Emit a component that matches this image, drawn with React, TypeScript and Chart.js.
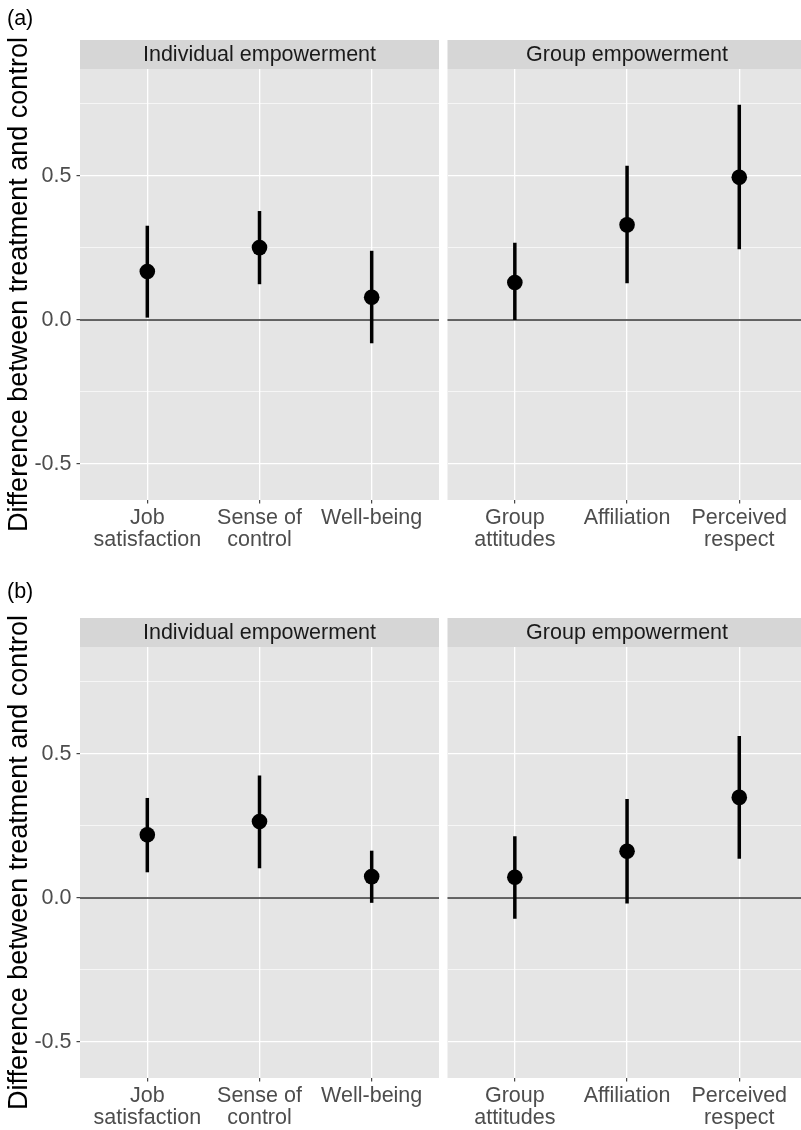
import React, { useEffect, useRef } from "react";
import { Chart, registerables } from "chart.js";

Chart.register(...registerables);

// ---------- data ----------
const individualCategories: string[][] = [["Job", "satisfaction"], ["Sense of", "control"], ["Well-being"]];
const groupCategories: string[][] = [["Group", "attitudes"], ["Affiliation"], ["Perceived", "respect"]];

const yTickValues = [-0.5, -0.25, 0, 0.25, 0.5, 0.75];
const yAxisTitle = "Difference between treatment and control";
const stripLabels = ["Individual empowerment", "Group empowerment"];
const panelTags = ["(a)", "(b)"];

// Panel (a)
const aIndividualEst = [0.168, 0.251, 0.079];
const aIndividualLow = [0.008, 0.124, -0.081];
const aIndividualHigh = [0.327, 0.378, 0.240];
const aGroupEst = [0.130, 0.330, 0.495];
const aGroupLow = [0.0, 0.127, 0.245];
const aGroupHigh = [0.268, 0.535, 0.747];

// Panel (b)
const bIndividualEst = [0.219, 0.265, 0.074];
const bIndividualLow = [0.089, 0.103, -0.017];
const bIndividualHigh = [0.347, 0.425, 0.164];
const bGroupEst = [0.072, 0.162, 0.349];
const bGroupLow = [-0.072, -0.019, 0.136];
const bGroupHigh = [0.214, 0.343, 0.562];

// ---------- style ----------
const FONT = '"Liberation Sans", Arial, Helvetica, sans-serif';
const PANEL_BG = "#E5E5E5";
const STRIP_BG = "#D6D6D6";
const STRIP_H = 29;
const Y_MIN = -0.625;
const Y_MAX = 0.871;

const isMajor = (v: number) => Math.abs(v * 2 - Math.round(v * 2)) < 1e-9;

function makeStripPlugin(text: string) {
  return {
    id: "stripPlugin",
    beforeDraw(chart: any) {
      const { ctx, chartArea: a } = chart;
      ctx.save();
      ctx.fillStyle = PANEL_BG;
      ctx.fillRect(a.left, a.top, a.right - a.left, a.bottom - a.top);
      ctx.fillStyle = STRIP_BG;
      ctx.fillRect(a.left, a.top - STRIP_H, a.right - a.left, STRIP_H);
      ctx.fillStyle = "#1A1A1A";
      ctx.font = `21.5px ${FONT}`;
      ctx.textAlign = "center";
      ctx.textBaseline = "middle";
      const cx = chart.scales.x.getPixelForValue(2);
      ctx.fillText(text, cx, a.top - STRIP_H / 2 + 0.5);
      ctx.restore();
    },
  };
}

interface FacetProps {
  left: number;
  top: number;
  width: number;
  height: number;
  padTop: number;
  categories: string[][];
  est: number[];
  low: number[];
  high: number[];
  strip: string;
  isLeft: boolean;
  xMax: number;
}

function Facet(p: FacetProps) {
  const ref = useRef<HTMLCanvasElement | null>(null);
  useEffect(() => {
    if (!ref.current) return;
    const errorBars = p.est.map((_, i) => ({
      data: [
        { x: i + 1, y: p.low[i] },
        { x: i + 1, y: p.high[i] },
      ],
      showLine: true,
      borderColor: "#000000",
      borderWidth: 3.5,
      borderCapStyle: "butt",
      pointRadius: 0,
      pointHoverRadius: 0,
      order: 2,
    }));
    const chart = new Chart(ref.current, {
      type: "scatter",
      data: {
        datasets: [
          {
            data: [
              { x: 0, y: 0 },
              { x: 4, y: 0 },
            ],
            showLine: true,
            borderColor: "#333333",
            borderWidth: 1.6,
            pointRadius: 0,
            pointHoverRadius: 0,
            order: 3,
          } as any,
          ...(errorBars as any[]),
          {
            data: p.est.map((v, i) => ({ x: i + 1, y: v })),
            backgroundColor: "#000000",
            pointRadius: 7.8,
            pointHoverRadius: 7.8,
            pointBorderWidth: 0,
            borderWidth: 0,
            order: 1,
          } as any,
        ],
      },
      options: {
        responsive: false,
        animation: false,
        events: [],
        layout: {
          padding: { top: p.padTop, right: p.isLeft ? 4 : 0, left: 0, bottom: 0 },
          autoPadding: false,
        },
        plugins: { legend: { display: false }, tooltip: { enabled: false } },
        scales: {
          x: {
            type: "linear",
            min: 0.4,
            max: p.xMax,
            afterBuildTicks: (s: any) => {
              s.ticks = p.categories.map((_, i) => ({ value: i + 1 }));
            },
            afterFit: (s: any) => {
              s.height = 52;
            },
            border: { display: false },
            grid: {
              color: "#FFFFFF",
              lineWidth: 1.3,
              tickColor: "#333333",
              tickWidth: 1.1,
              tickLength: 3.5,
            },
            ticks: {
              callback: (v: any) => p.categories[Math.round(Number(v)) - 1],
              color: "#4D4D4D",
              font: { size: 21.5, family: FONT, lineHeight: 1.04 },
              padding: 3,
              maxRotation: 0,
              minRotation: 0,
              autoSkip: false,
            },
          },
          y: {
            type: "linear",
            min: Y_MIN,
            max: Y_MAX,
            afterBuildTicks: (s: any) => {
              s.ticks = yTickValues.map((v) => ({ value: v }));
            },
            afterFit: (s: any) => {
              s.width = p.isLeft ? 80 : 4.5;
            },
            border: { display: false },
            grid: {
              color: "#FFFFFF",
              lineWidth: (c: any) => (c.tick && isMajor(c.tick.value) ? 1.3 : 0.65),
              tickColor: (c: any) =>
                p.isLeft && c.tick && isMajor(c.tick.value) ? "#333333" : "rgba(0,0,0,0)",
              tickWidth: 1.1,
              tickLength: 3.5,
              drawTicks: p.isLeft,
            },
            ticks: {
              display: p.isLeft,
              callback: (v: any) => (isMajor(Number(v)) ? Number(v).toFixed(1) : ""),
              color: "#4D4D4D",
              font: { size: 21.5, family: FONT },
              padding: 5,
            },
            title: {
              display: p.isLeft,
              text: yAxisTitle,
              color: "#000000",
              font: { size: 27, family: FONT, lineHeight: 1.2 },
              padding: { top: 3, bottom: 0 },
            },
          },
        },
      } as any,
      plugins: [makeStripPlugin(p.strip)],
    });
    return () => chart.destroy();
  }, []);
  return (
    <canvas
      ref={ref}
      width={p.width}
      height={p.height}
      style={{ position: "absolute", left: p.left, top: p.top, width: p.width, height: p.height, display: "block" }}
    />
  );
}

const rows = [
  {
    tag: panelTags[0],
    tagTop: 8,
    top: 0,
    height: 552,
    padTop: 69,
    ind: { est: aIndividualEst, low: aIndividualLow, high: aIndividualHigh },
    grp: { est: aGroupEst, low: aGroupLow, high: aGroupHigh },
  },
  {
    tag: panelTags[1],
    tagTop: 581,
    top: 560,
    height: 570,
    padTop: 87,
    ind: { est: bIndividualEst, low: bIndividualLow, high: bIndividualHigh },
    grp: { est: bGroupEst, low: bGroupLow, high: bGroupHigh },
  },
];

export default function App() {
  return (
    <div
      style={{
        position: "absolute",
        left: 0,
        top: 0,
        width: 801,
        height: 1130,
        overflow: "hidden",
        background: "#FFFFFF",
        fontFamily: FONT,
      }}
    >
      {rows.map((r, k) => (
        <React.Fragment key={k}>
          <Facet
            left={0}
            top={r.top}
            width={443}
            height={r.height}
            padTop={r.padTop}
            categories={individualCategories}
            est={r.ind.est}
            low={r.ind.low}
            high={r.ind.high}
            strip={stripLabels[0]}
            isLeft={true}
            xMax={3.6}
          />
          <Facet
            left={443}
            top={r.top}
            width={358}
            height={r.height}
            padTop={r.padTop}
            categories={groupCategories}
            est={r.grp.est}
            low={r.grp.low}
            high={r.grp.high}
            strip={stripLabels[1]}
            isLeft={false}
            xMax={3.55}
          />
          <div
            style={{
              position: "absolute",
              left: 7,
              top: r.tagTop,
              fontSize: 21.5,
              lineHeight: "21.5px",
              color: "#000000",
            }}
          >
            {r.tag}
          </div>
        </React.Fragment>
      ))}
    </div>
  );
}
